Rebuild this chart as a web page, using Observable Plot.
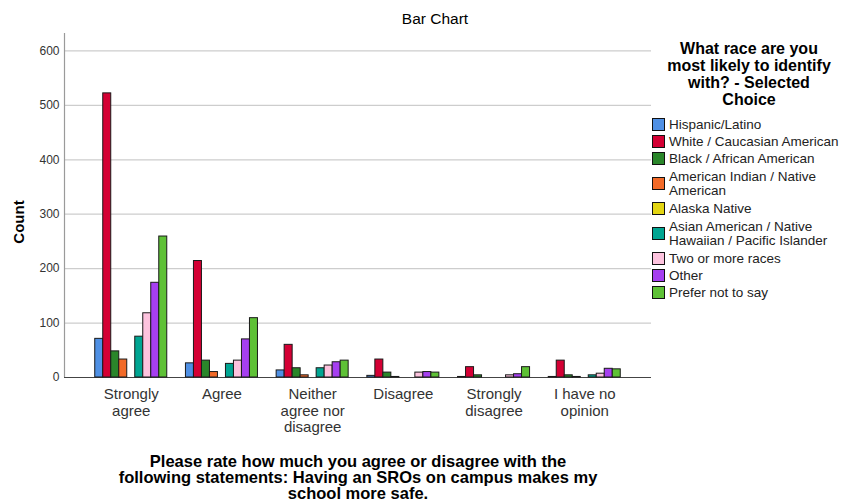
<!DOCTYPE html>
<html><head><meta charset="utf-8">
<script src="https://cdn.jsdelivr.net/npm/d3@7"></script>
<script src="https://cdn.jsdelivr.net/npm/@observablehq/plot@0.6"></script>
<style>
body{margin:0;background:#fff;font-family:"Liberation Sans",Arial,sans-serif;}
#fig{position:relative;width:842px;height:501px;overflow:hidden;background:#fff;}
#fig svg{position:absolute;left:0;top:0;}
.abs{position:absolute;z-index:5;white-space:pre;color:#000;}
#title{left:335px;width:200px;top:10px;text-align:center;font-size:15.5px;}
#ylab{left:18px;top:222px;font-size:15px;font-weight:bold;transform:translate(-50%,-50%) rotate(-90deg);}
#xtitle{left:58px;width:600px;top:453px;text-align:center;font-size:16.5px;font-weight:bold;line-height:16px;}
#legtitle{left:650px;width:198px;top:41px;text-align:center;font-size:16px;font-weight:bold;line-height:16.9px;}
#legend{left:652px;top:116px;}
.item{display:flex;align-items:center;height:17px;}
.item.two{height:33px;}
.sw{width:11px;height:11px;border:1px solid #111;margin-right:4px;flex:none;}
.lab{font-size:13.5px;line-height:13.5px;color:#222;white-space:pre;}
</style></head><body><div id="fig"></div>
<script>
const categories = ["Strongly agree","Agree","Neither agree nor disagree","Disagree","Strongly disagree","I have no opinion"];
const categoryLabels = ["Strongly\nagree","Agree","Neither\nagree nor\ndisagree","Disagree","Strongly\ndisagree","I have no\nopinion"];
const races = ["Hispanic/Latino","White / Caucasian American","Black / African American","American Indian / Native American","Alaska Native","Asian American / Native Hawaiian / Pacific Islander","Two or more races","Other","Prefer not to say"];
const raceLabels = ["Hispanic/Latino","White / Caucasian American","Black / African American","American Indian / Native\nAmerican","Alaska Native","Asian American / Native\nHawaiian / Pacific Islander","Two or more races","Other","Prefer not to say"];
const raceColors = ["#4f90e4","#d40034","#2a862a","#f26a28","#e3d512","#00a592","#fdc3de","#a63ff0","#5ec136"];

const stronglyAgree    = [71,522,48,33,0,75,118,174,259];
const agree            = [26,214,31,10,0,25,31,70,109];
const neither          = [13,60,17,4,0,17,22,28,31];
const disagree         = [3,33,9,1,0,0,9,10,9];
const stronglyDisagree = [1,19,4,0,0,0,4,6,19];
const noOpinion        = [1,31,4,1,0,4,7,16,15];

const yTicks = [0,100,200,300,400,500,600];
const yMax = 632;

const series = [stronglyAgree, agree, neither, disagree, stronglyDisagree, noOpinion];
const rows = [];
categories.forEach((c, i) => series[i].forEach((v, j) => rows.push({category: c, race: races[j], count: v})));

const dims = {width: 842, height: 501, marginLeft: 64, marginRight: 191, marginTop: 33, marginBottom: 124};

const back = Plot.plot({
  ...dims,
  style: {fontFamily: "Liberation Sans, Arial, sans-serif", background: "white"},
  x: {domain: [0, 1], axis: null},
  y: {domain: [0, yMax], axis: null},
  marks: [
    Plot.ruleY(yTicks.filter(t => t > 0), {stroke: "#cdcdcd", strokeWidth: 1.3}),
    Plot.ruleX([0], {stroke: "#9a9a9a", strokeWidth: 1.2}),
    Plot.axisY(yTicks, {tickSize: 0, tickPadding: 5, fontSize: 12, fill: "#333", label: null})
  ]
});

const front = Plot.plot({
  ...dims,
  facet: {marginLeft: 0, marginRight: 0, marginTop: 0, marginBottom: 0},
  style: {fontFamily: "Liberation Sans, Arial, sans-serif", background: "transparent"},
  fx: {domain: categories, paddingInner: 0.206, paddingOuter: 0.339, round: false, axis: null, label: null},
  x: {domain: races, padding: 0, round: false, axis: null},
  y: {domain: [0, yMax], axis: null},
  color: {domain: races, range: raceColors},
  marks: [
    Plot.barY(rows.filter(d => d.count > 0), {fx: "category", x: "race", y: "count", fill: "race", stroke: "#1a1a1a", strokeWidth: 1, insetLeft: 0, insetRight: 0}),
    Plot.axisFx({anchor: "bottom", tickSize: 0, tickPadding: 10, fontSize: 15, lineHeight: 1.1, fill: "#333", label: null,
      tickFormat: d => categoryLabels[categories.indexOf(d)]})
  ]
});

const base = Plot.plot({
  ...dims,
  style: {background: "transparent"},
  x: {domain: [0, 1], axis: null},
  y: {domain: [0, yMax], axis: null},
  marks: [Plot.ruleY([0], {stroke: "#444", strokeWidth: 1.2})]
});

const fig = document.getElementById("fig");
fig.appendChild(back);
fig.appendChild(base);
fig.appendChild(front);

function addDiv(id, text) {
  const d = document.createElement("div");
  d.className = "abs"; d.id = id; d.textContent = text;
  fig.appendChild(d); return d;
}
addDiv("title", "Bar Chart");
addDiv("ylab", "Count");
addDiv("xtitle", "Please rate how much you agree or disagree with the\nfollowing statements: Having an SROs on campus makes my\nschool more safe.");
addDiv("legtitle", "What race are you\nmost likely to identify\nwith? - Selected\nChoice");
const leg = addDiv("legend", "");
raceLabels.forEach((lab, i) => {
  const it = document.createElement("div");
  it.className = "item" + (lab.includes("\n") ? " two" : "");
  const sw = document.createElement("div"); sw.className = "sw"; sw.style.background = raceColors[i];
  const tx = document.createElement("div"); tx.className = "lab"; tx.textContent = lab;
  it.appendChild(sw); it.appendChild(tx); leg.appendChild(it);
});
</script></body></html>
